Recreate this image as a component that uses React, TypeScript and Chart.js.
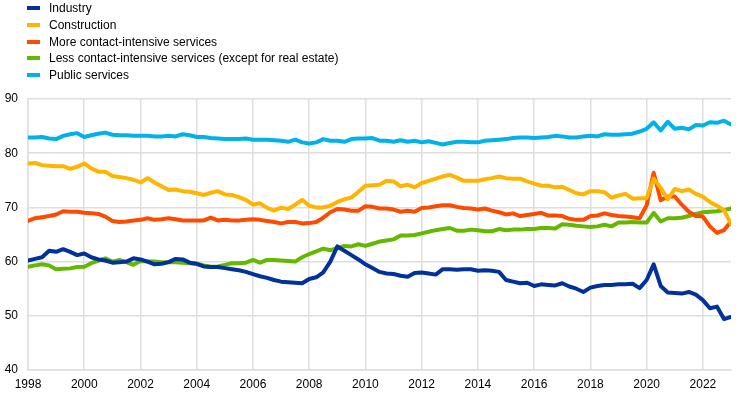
import React, { useEffect, useRef } from "react";
import { Chart, registerables } from "chart.js";

Chart.register(...registerables);

const START_YEAR = 1998;
const SERIES_NAMES = [
  "Industry",
  "Construction",
  "More contact-intensive services",
  "Less contact-intensive services (except for real estate)",
  "Public services",
];
const COLORS = ["#003299", "#FFB400", "#FF4B00", "#65B800", "#00B1EA"];

const INDUSTRY = [
  60.2, 60.5, 60.8, 62.0, 61.8, 62.3, 61.8, 61.2, 61.5, 60.8, 60.4, 60.2,
  59.8, 59.9, 60.0, 60.6, 60.4, 60.0, 59.5, 59.6, 59.9, 60.5, 60.4, 59.8,
  59.6, 59.1, 59.0, 59.0, 58.8, 58.6, 58.4, 58.1, 57.7, 57.3, 57.0, 56.6,
  56.3, 56.2, 56.1, 56.0, 56.8, 57.1, 58.0, 60.0, 62.8, 62.0, 61.2, 60.4,
  59.5, 58.8, 58.1, 57.8, 57.7, 57.4, 57.2, 57.9, 58.0, 57.8, 57.6, 58.6,
  58.6, 58.5, 58.6, 58.6, 58.3, 58.4, 58.3, 58.1, 56.6, 56.3, 56.0, 56.1,
  55.5, 55.8, 55.7, 55.6, 56.0, 55.4, 55.0, 54.4, 55.2, 55.5, 55.7, 55.7,
  55.8, 55.8, 55.9, 55.1, 56.6, 59.5, 55.5, 54.3, 54.2, 54.1, 54.4, 53.9,
  52.9, 51.4, 51.7, 49.4, 49.8,
];
const CONSTRUCTION = [
  78.1, 78.2, 77.8, 77.7, 77.6, 77.6, 77.1, 77.5, 78.1, 77.2, 76.6, 76.6,
  75.8, 75.6, 75.4, 75.1, 74.6, 75.4, 74.6, 73.9, 73.2, 73.3, 73.0, 72.9,
  72.6, 72.3, 72.7, 73.0, 72.4, 72.3, 71.9, 71.4, 70.5, 70.75, 69.9, 69.4,
  69.95, 69.7, 70.5, 71.4, 70.3, 70.0, 70.0, 70.3, 71.0, 71.5, 71.8, 72.9,
  74.0, 74.1, 74.2, 74.9, 74.8, 73.9, 74.2, 73.7, 74.5, 74.9, 75.3, 75.7,
  76.0, 75.5, 74.9, 74.9, 74.9, 75.2, 75.4, 75.7, 75.4, 75.3, 75.3, 74.8,
  74.4, 74.0, 74.0, 73.7, 73.8, 73.2, 72.6, 72.4, 73.0, 73.0, 72.8, 71.8,
  72.2, 72.5, 71.6, 71.7, 71.7, 75.3, 73.6, 71.5, 73.4, 73.0, 73.3, 72.5,
  72.0, 71.0, 70.3, 69.5, 66.9,
];
const MORE_CONTACT = [
  67.5, 68.0, 68.2, 68.4, 68.7, 69.3, 69.2, 69.2, 69.0, 68.9, 68.8, 68.3,
  67.5, 67.3, 67.4, 67.6, 67.7, 68.0, 67.7, 67.8, 68.0, 67.8, 67.6, 67.6,
  67.6, 67.6, 68.1, 67.6, 67.7, 67.6, 67.6, 67.7, 67.8, 67.7, 67.5, 67.3,
  67.05, 67.3, 67.3, 67.05, 67.1, 67.3, 68.1, 69.1, 69.7, 69.6, 69.4, 69.4,
  70.2, 70.1, 69.8, 69.8, 69.6, 69.2, 69.4, 69.2, 69.9, 70.0, 70.2, 70.4,
  70.4, 70.1, 69.9, 69.8, 69.6, 69.8, 69.4, 69.1, 68.7, 68.9, 68.4, 68.6,
  68.8, 69.0, 68.5, 68.5, 68.4, 67.9, 67.7, 67.7, 68.4, 68.5, 68.9, 68.6,
  68.4, 68.3, 68.2, 68.0, 70.4, 76.4, 71.3, 72.0, 72.0, 70.5, 69.2, 68.4,
  68.3, 66.5, 65.3, 65.8, 67.4,
];
const LESS_CONTACT = [
  59.05, 59.3, 59.5, 59.3, 58.6, 58.7, 58.75, 59.0, 59.05, 59.7, 60.2, 60.6,
  60.0, 60.3, 59.9, 59.4, 60.1, 60.0, 60.0, 59.9, 59.9, 59.9, 59.8, 59.7,
  59.6, 59.3, 59.05, 59.1, 59.4, 59.7, 59.7, 59.8, 60.3, 59.8, 60.3, 60.3,
  60.2, 60.1, 60.0, 60.8, 61.4, 61.9, 62.4, 62.1, 62.5, 62.9, 62.8, 63.2,
  62.9, 63.3, 63.7, 63.9, 64.1, 64.8, 64.8, 64.9, 65.2, 65.5, 65.8, 66.0,
  66.2, 65.7, 65.7, 65.9, 65.8, 65.6, 65.6, 66.0, 65.8, 65.9, 65.9, 66.0,
  66.0, 66.2, 66.2, 66.1, 66.9, 66.8, 66.6, 66.5, 66.4, 66.5, 66.8, 66.5,
  67.2, 67.2, 67.3, 67.2, 67.2, 69.0, 67.4, 68.0, 68.0, 68.1, 68.4, 68.8,
  69.1, 69.2, 69.3, 69.5, 69.8,
];
const PUBLIC = [
  82.9, 82.9, 83.0, 82.7, 82.6, 83.2, 83.5, 83.7, 83.0, 83.3, 83.6, 83.8,
  83.4, 83.3, 83.3, 83.2, 83.2, 83.2, 83.1, 83.1, 83.2, 83.1, 83.5, 83.3,
  83.0, 83.0, 82.8, 82.7, 82.6, 82.6, 82.6, 82.7, 82.5, 82.5, 82.5, 82.4,
  82.3, 82.1, 82.5, 82.0, 81.8, 82.0, 82.6, 82.3, 82.3, 82.1, 82.6, 82.7,
  82.7, 82.8, 82.3, 82.3, 82.1, 82.4, 82.1, 82.3, 82.0, 82.2, 81.9, 81.6,
  81.9, 82.1, 82.1, 82.0, 82.0, 82.3, 82.4, 82.5, 82.6, 82.8, 82.9, 82.9,
  82.8, 82.9, 83.0, 83.2, 83.1, 82.9, 82.9, 83.1, 83.2, 83.1, 83.5, 83.4,
  83.4, 83.5, 83.6, 84.0, 84.5, 85.7, 84.2, 85.8, 84.5, 84.7, 84.4, 85.2,
  85.1, 85.7, 85.6, 86.0, 85.3,
];
const SERIES = [INDUSTRY, CONSTRUCTION, MORE_CONTACT, LESS_CONTACT, PUBLIC];

const X_MIN = 1998;
const X_MAX = 2023;
const Y_MIN = 40;
const Y_MAX = 90;

const FONT = "Arial, 'Liberation Sans', sans-serif";
const GRID = "#dedede";

export default function App() {
  const canvasRef = useRef<HTMLCanvasElement | null>(null);

  useEffect(() => {
    const canvas = canvasRef.current;
    if (!canvas) return;
    const chart = new Chart(canvas, {
      type: "line",
      data: {
        datasets: SERIES.map((vals, k) => ({
          label: SERIES_NAMES[k],
          data: vals.map((v, i) => ({ x: START_YEAR + i / 4, y: v })),
          borderColor: COLORS[k],
          backgroundColor: COLORS[k],
          borderWidth: 4,
          pointRadius: 0,
          tension: 0,
          borderJoinStyle: "round" as const,
          borderCapStyle: "round" as const,
        })),
      },
      options: {
        animation: false,
        responsive: false,
        maintainAspectRatio: false,
        layout: { padding: { left: 0, top: 99, right: 12, bottom: 0 } },
        plugins: {
          legend: { display: false },
          tooltip: { enabled: false },
        },
        scales: {
          x: {
            type: "linear",
            min: X_MIN,
            max: X_MAX,
            afterFit: (s: any) => {
              s.height = 26;
            },
            ticks: {
              stepSize: 2,
              includeBounds: false,
              autoSkip: false,
              maxRotation: 0,
              padding: 7,
              color: "#000",
              font: { family: FONT, size: 12 },
              callback: (v: any) => String(v),
            },
            grid: { color: GRID, lineWidth: 1.5, drawTicks: false },
            border: { color: GRID, width: 1.5 },
          },
          y: {
            min: Y_MIN,
            max: Y_MAX,
            afterFit: (s: any) => {
              s.width = 28;
            },
            ticks: {
              stepSize: 10,
              padding: 10,
              color: "#000",
              font: { family: FONT, size: 12 },
            },
            grid: { color: GRID, lineWidth: 1.5, drawTicks: false },
            border: { color: GRID, width: 1.5 },
          },
        },
      },
    });
    return () => chart.destroy();
  }, []);

  return (
    <div
      style={{
        position: "absolute",
        left: 0,
        top: 0,
        width: 743,
        height: 396,
        background: "#fff",
        fontFamily: FONT,
      }}
    >
      <canvas
        ref={canvasRef}
        width={743}
        height={396}
        style={{ position: "absolute", left: 0, top: 0, width: 743, height: 396 }}
      />
      {SERIES_NAMES.map((name, k) => (
        <div
          key={name}
          style={{
            position: "absolute",
            left: 27,
            top: 8 + k * 16.8 - 8,
            height: 16,
            display: "flex",
            alignItems: "center",
            fontSize: 12,
            color: "#000",
            whiteSpace: "nowrap",
          }}
        >
          <span
            style={{
              display: "inline-block",
              width: 13,
              height: 4,
              background: COLORS[k],
              marginRight: 9,
            }}
          />
          <span>{name}</span>
        </div>
      ))}
    </div>
  );
}
